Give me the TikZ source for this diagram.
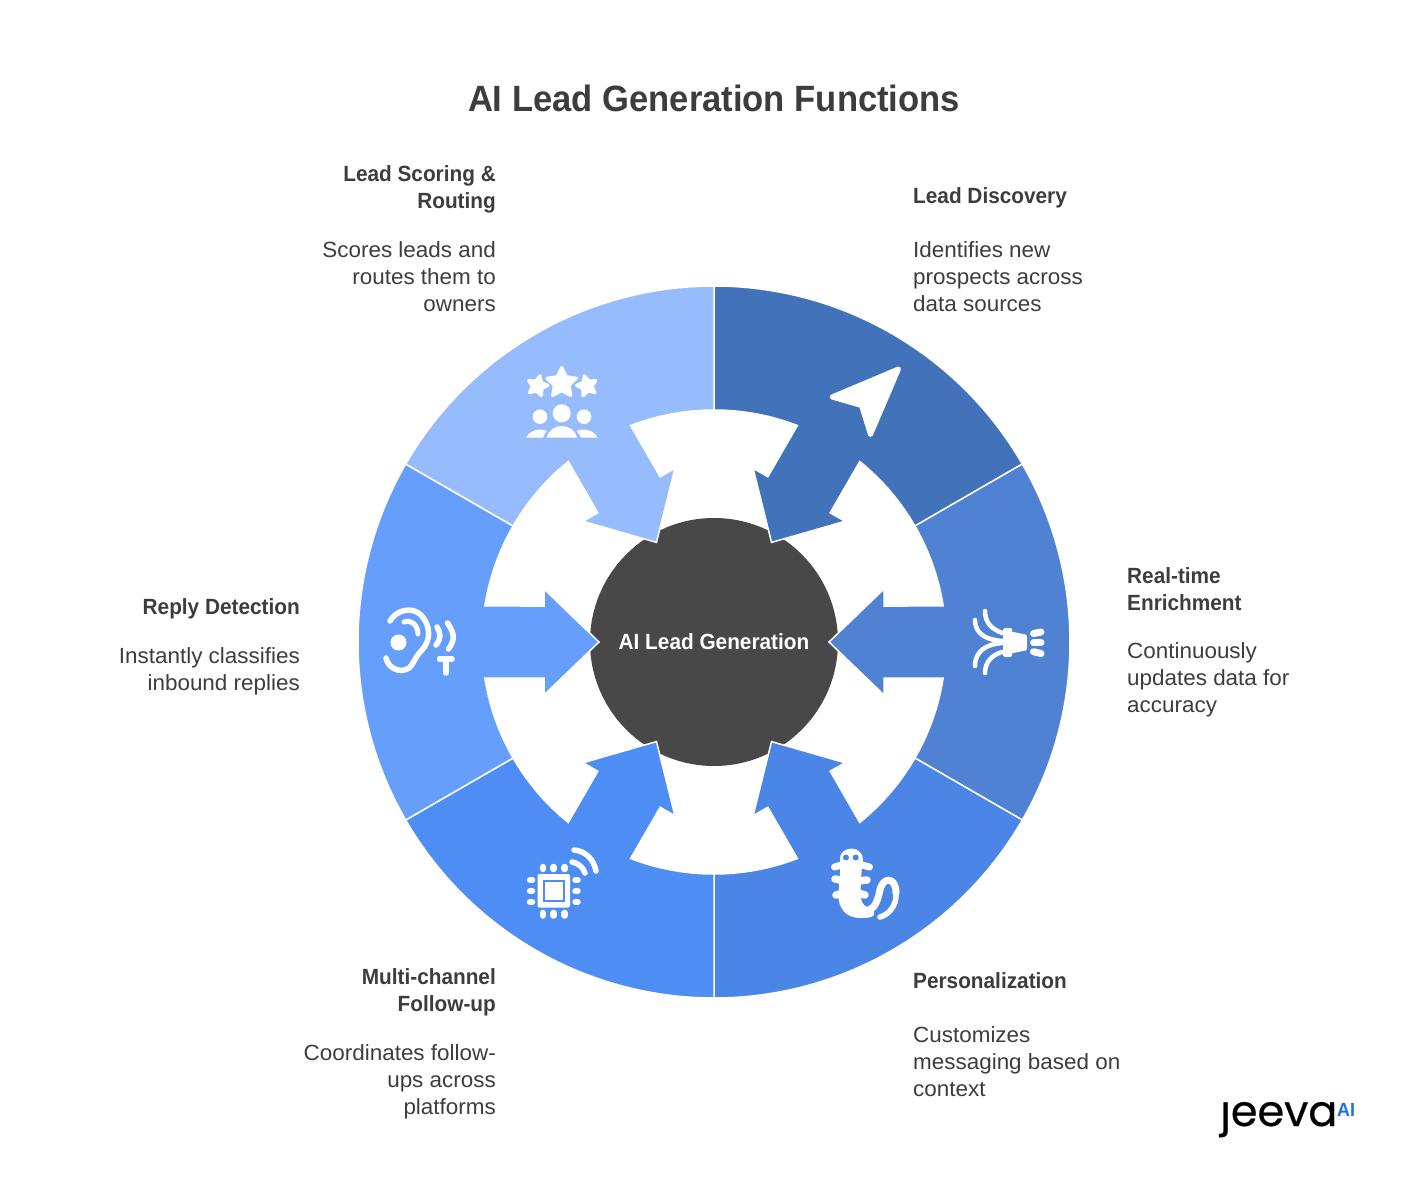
\documentclass[tikz,border=0pt]{standalone}
\usepackage{fontspec}
\usetikzlibrary{shapes.geometric}
\setmainfont{Liberation Sans}[FakeStretch=1.02,BoldFeatures={FakeStretch=0.945}]
\newfontfamily\logofont{Poppins}[FakeBold=0.5]
\definecolor{ink}{HTML}{3D3D3D}
\definecolor{hubc}{HTML}{484848}
\definecolor{sa}{HTML}{4272B9}
\definecolor{sb}{HTML}{5082D4}
\definecolor{sc}{HTML}{4B86E6}
\definecolor{sd}{HTML}{4E8DF3}
\definecolor{se}{HTML}{669FFB}
\definecolor{sf}{HTML}{96BCFD}
\definecolor{aiblue}{HTML}{1F6FE0}
\tikzset{
  seg/.style={draw=white,line width=1.5pt,line join=miter,miter limit=10},
  hd/.style={inner sep=0pt,text=ink,font=\fontsize{22}{27}\selectfont\bfseries},
  bd/.style={inner sep=0pt,text=ink,font=\fontsize{22}{27}\selectfont},
  lft/.style={anchor=north west,align=left},
  rgt/.style={anchor=north east,align=right},
  ic/.style={draw=white,line cap=round,line join=round,fill=none},
  rnd/.style={fill=white,draw=white,line join=round},
  st/.style={star,star points=5,star point ratio=2.0,fill=white,draw=white,line width=3pt,line join=round,inner sep=0pt}
}
\begin{document}
\begin{tikzpicture}[x=1pt,y=-1pt]
\useasboundingbox (0,0) rectangle (1428,1196);
\fill[white] (0,0) rectangle (1428,1196);
\node[inner sep=0pt,text=ink,font=\fontsize{36.6}{40}\selectfont\bfseries] (title) at (714,98) {AI Lead Generation Functions};
% hub
\node[circle,fill=hubc,minimum size=248pt,inner sep=0pt] (hub) at (714,642) {};
% segments
\begin{scope}[shift={(714,642)},y=1pt]
\foreach \a/\c in {60/sa,0/sb,-60/sc,-120/sd,180/se,120/sf}{
 \filldraw[seg,fill=\c,rotate=\a]
   (8.93:232) arc[start angle=8.93,end angle=30,radius=232]
   -- (30:356) arc[start angle=30,end angle=-30,radius=356]
   -- (-30:232) arc[start angle=-30,end angle=-8.93,radius=232]
   -- (170,-36) -- (170,-53) -- (115,0) -- (170,53) -- (170,36) -- cycle;
}
\end{scope}
\node[inner sep=0pt,text=white,font=\fontsize{22}{27}\selectfont\bfseries] (hubt) at (714,642) {AI Lead Generation};
% labels
\node[hd,lft] (h1) at (913,187) {Lead Discovery};
\node[bd,lft] (b1) at (913,241) {Identifies new\\prospects across\\data sources};
\node[hd,lft] (h2) at (1127,567) {Real-time\\Enrichment};
\node[bd,lft] (b2) at (1127,642) {Continuously\\updates data for\\accuracy};
\node[hd,lft] (h3) at (913,972) {Personalization};
\node[bd,lft] (b3) at (913,1026) {Customizes\\messaging based on\\context};
\node[hd,rgt] (h4) at (496,968) {Multi-channel\\Follow-up};
\node[bd,rgt] (b4) at (496,1044) {Coordinates follow-\\ups across\\platforms};
\node[hd,rgt] (h5) at (300,598) {Reply Detection};
\node[bd,rgt] (b5) at (300,647) {Instantly classifies\\inbound replies};
\node[hd,rgt] (h6) at (496,165) {Lead Scoring \&\\Routing};
\node[bd,rgt] (b6) at (496,241) {Scores leads and\\routes them to\\owners};
% plane
\filldraw[rnd,line width=5pt] (898.5,369) -- (832,397) -- (861.5,405.5) -- (870.5,434.5) -- cycle;
% horn
\filldraw[rnd,line width=3pt] (1004.5,629.5) -- (1010.5,629.5) -- (1010.5,633) -- (1025.5,636) -- (1025.5,649) -- (1010.5,652) -- (1010.5,655.5) -- (1004.5,655.5) -- cycle;
\draw[ic,line width=7pt] (1033.5,633.5) -- (1041,632);
\draw[ic,line width=7pt] (1033.5,642.7) -- (1041,642.7);
\draw[ic,line width=7pt] (1033.5,651.7) -- (1041,653.5);
\draw[ic,line width=4.5pt] (1002,641) .. controls (988,640) and (975,635) .. (975,620);
\draw[ic,line width=4.5pt] (1002,643) .. controls (988,644) and (975,650) .. (975,666);
\draw[ic,line width=4.5pt] (1002,633) .. controls (992,629) and (985,623) .. (985,611);
\draw[ic,line width=4.5pt] (1002,652) .. controls (992,655) and (985,662) .. (985,673);
% ear
\draw[ic,line width=5.5pt] (390,621) .. controls (396,610) and (412,606) .. (421,615) .. controls (431,626) and (431,640) .. (422,650) .. controls (414,658) and (414,664) .. (409,668) .. controls (400,674) and (388,668) .. (386,658);
\draw[ic,line width=5pt] (404,622) .. controls (412,619) and (418,626) .. (418,634);
\fill[white] (398.5,642.5) circle[radius=8];
\draw[ic,line width=5.5pt] (437,627) .. controls (441,633) and (441,639) .. (436,645);
\draw[ic,line width=5.5pt] (447.5,623) .. controls (455,634) and (455,640) .. (448.5,649);
\draw[ic,line width=5.5pt] (439.5,659) -- (452,659);
\draw[ic,line width=5.5pt] (446,659) -- (446,673);
% chip
\fill[white,rounded corners=2pt] (537.5,874) rectangle (570,907.5);
\draw[sd,line width=2pt,fill=white] (544,881) rectangle (564,901);
\foreach \p in {543,553.7,564.7}{
  \draw[ic,line width=6.5pt] (\p,867) -- (\p,869);
  \draw[ic,line width=6.5pt] (\p,913) -- (\p,915.5);
}
\foreach \p in {880,891,902}{
  \draw[ic,line width=6.5pt] (530,\p) -- (532,\p);
  \draw[ic,line width=6.5pt] (575.5,\p) -- (577.5,\p);
}
\draw[ic,line width=5.5pt] (574,850) .. controls (586,851) and (594,860) .. (596,871);
\draw[ic,line width=5.5pt] (572,862) .. controls (578,863) and (583,867) .. (585,873);
% stars
\node[st,minimum size=31pt] (star1) at (561.7,383) {};
\node[st,minimum size=21pt,shape border rotate=-14] (star2) at (537.5,386) {};
\node[st,minimum size=21pt,shape border rotate=14] (star3) at (587,386) {};
% people
\fill[white] (561.7,413.3) circle[radius=9];
\fill[white] (540,416.7) circle[radius=7.3];
\fill[white] (584,416.7) circle[radius=7.3];
\fill[white] (546.5,437.5) .. controls (549,430) and (555,426) .. (561.7,426) .. controls (569,426) and (575,430) .. (577,437.5) -- cycle;
\fill[white] (526,437.5) .. controls (529,432) and (535,429.5) .. (540,429.5) .. controls (543,429.5) and (545,430) .. (547,431) .. controls (545,433) and (544,435) .. (543,437.5) -- cycle;
\fill[white] (597.5,437.5) .. controls (594.5,432) and (589,429.5) .. (584,429.5) .. controls (581,429.5) and (578.5,430) .. (576.5,431) .. controls (578.5,433) and (580,435) .. (581,437.5) -- cycle;
% salamander
\fill[white] (851.7,848.5) .. controls (858,848.5) and (863.5,854) .. (863,860) .. controls (862,868) and (860,880) .. (861,897) .. controls (861.5,905) and (866,908) .. (871,907) .. controls (880,918) and (868,918) .. (860,918) .. controls (846,918) and (838,908) .. (838.5,895) .. controls (839,882) and (841,868) .. (840,858) .. controls (840,853) and (845,848.5) .. (851.7,848.5) -- cycle;
\draw[ic,line width=7pt] (858,909) .. controls (874,915) and (877,902) .. (879.5,892) .. controls (882,876) and (896,876) .. (896,893);
\draw[ic,line width=5.5pt] (896,893) .. controls (897,906) and (888,915) .. (880,917);
\draw[ic,line width=7pt] (834.5,867) -- (845,864);
\draw[ic,line width=7.5pt] (835,879) -- (845,881);
\draw[ic,line width=7.5pt] (836,895) -- (845,893);
\draw[ic,line width=7pt] (869.5,867) -- (858,864);
\draw[ic,line width=7.5pt] (867,880) -- (858,881);
\draw[ic,line width=7.5pt] (865,895) -- (858,893);
\fill[sc] (846,857.5) circle[radius=3];
\fill[sc] (855.7,857.5) circle[radius=3];
% logo
\node[inner sep=0pt,anchor=base west,text=black,font=\fontsize{43}{43}\selectfont\logofont] (logo) at (1220,1126) {jeeva};
\fill[white] (1216,1088) rectangle (1236,1101);
\node[inner sep=0pt,anchor=base west,text=aiblue,font=\fontsize{19}{19}\selectfont\bfseries] (logoai) at (1337,1116) {AI};
\end{tikzpicture}
\end{document}
